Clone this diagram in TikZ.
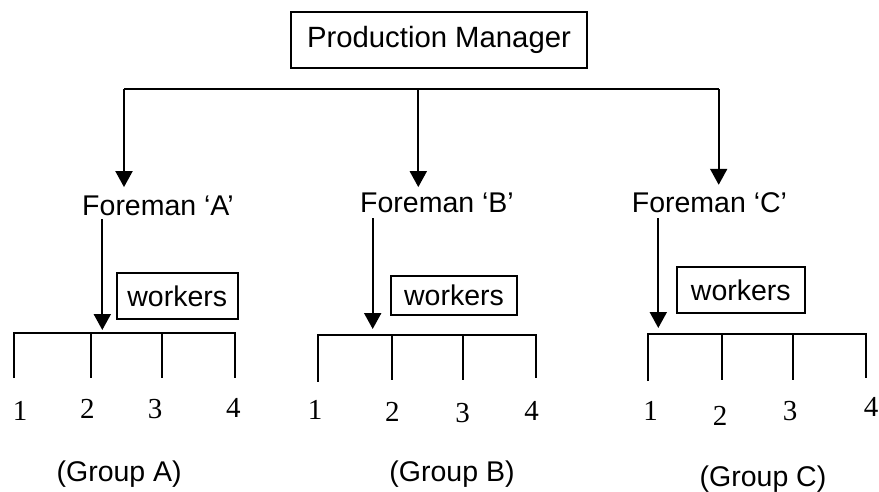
\documentclass[tikz,border=0pt]{standalone}
\usepackage{fontspec}
\setmainfont{Liberation Sans}
\newfontfamily\numfont{Liberation Serif}
\usetikzlibrary{arrows.meta}
\begin{document}
\begin{tikzpicture}[x=1pt,y=-1pt,
  every path/.style={line width=2pt},
  arr/.style={-{Triangle[width=17pt,length=16pt]}},
  lbl/.style={inner sep=0pt, anchor=base, font=\fontsize{28.5}{30}\selectfont},
  boxed/.style={draw, line width=2pt, inner sep=0pt, font=\fontsize{28.5}{30}\selectfont},
  num/.style={inner sep=0pt, anchor=base, font=\numfont\fontsize{29}{30}\selectfont},
  grp/.style={line join=miter}
]
\useasboundingbox (0,0) rectangle (879,492);

% top box
\node[boxed, minimum width=296pt, minimum height=56pt, font=\fontsize{29.3}{30}\selectfont] (pm) at (439,40) {Production Manager};

% foremen
\node[lbl] (fa) at (158,215) {Foreman ‘A’};
\node[lbl] (fb) at (437,212) {Foreman ‘B’};
\node[lbl] (fc) at (709.5,213) {Foreman ‘C’};

% distribution line
\coordinate (jl) at (124,89.5);
\coordinate (jm) at (418.3,89.5);
\coordinate (jr) at (718.7,89.5);
\draw (jl) -- (jr);
\draw[arr, shorten >=7.3pt] (jl) -- (jl |- fa.north);
\draw[arr, shorten >=4.3pt] (jm) -- (jm |- fb.north);
\draw[arr, shorten >=7.3pt] (jr) -- (jr |- fc.north);

% workers boxes
\node[boxed, minimum width=120.7pt, minimum height=46.3pt] (wa) at (177.3,295.9) {workers};
\node[boxed, minimum width=126.6pt, minimum height=39pt] (wb) at (454,295.5) {workers};
\node[boxed, minimum width=128.3pt, minimum height=45.7pt] (wc) at (740.8,289.9) {workers};

% group bars
\coordinate (da) at (102.3,330);
\coordinate (db) at (372.7,329);
\coordinate (dc) at (658.3,328);
\draw[arr, shorten <=3pt] (fa.south -| da) -- (da);
\draw[arr, shorten <=5pt] (fb.south -| db) -- (db);
\draw[arr, shorten <=4pt] (fc.south -| dc) -- (dc);

% Group A
\draw[grp] (14,378) -- (14,333.3) -- (235.3,333.3) -- (235.3,378);
\draw (90.7,333.3) -- (90.7,378);
\draw (162.3,333.3) -- (162.3,378);
% Group B
\draw[grp] (317.7,381.7) -- (317.7,335) -- (536,335) -- (536,377.7);
\draw (392,335) -- (392,380);
\draw (463.3,335) -- (463.3,380);
% Group C
\draw[grp] (648.3,381) -- (648.3,334.3) -- (866,334.3) -- (866,377.7);
\draw (721.7,334.3) -- (721.7,380);
\draw (792.7,334.3) -- (792.7,380);

% numbers
\node[num] (a1) at (20,420.7) {1};
\node[num] (a2) at (87.3,418.3) {2};
\node[num] (a3) at (155,418.3) {3};
\node[num] (a4) at (233.3,417.3) {4};
\node[num] (b1) at (315,419.3) {1};
\node[num] (b2) at (392.3,421.7) {2};
\node[num] (b3) at (462.7,422.2) {3};
\node[num] (b4) at (531.7,420) {4};
\node[num] (c1) at (650.7,420.7) {1};
\node[num] (c2) at (720,425) {2};
\node[num] (c3) at (790,420) {3};
\node[num] (c4) at (871,416) {4};

% group labels
\node[lbl] (ga) at (119.2,481.5) {(Group A)};
\node[lbl] (gb) at (452,481.5) {(Group B)};
\node[lbl] (gc) at (763,486) {(Group C)};
\end{tikzpicture}
\end{document}
